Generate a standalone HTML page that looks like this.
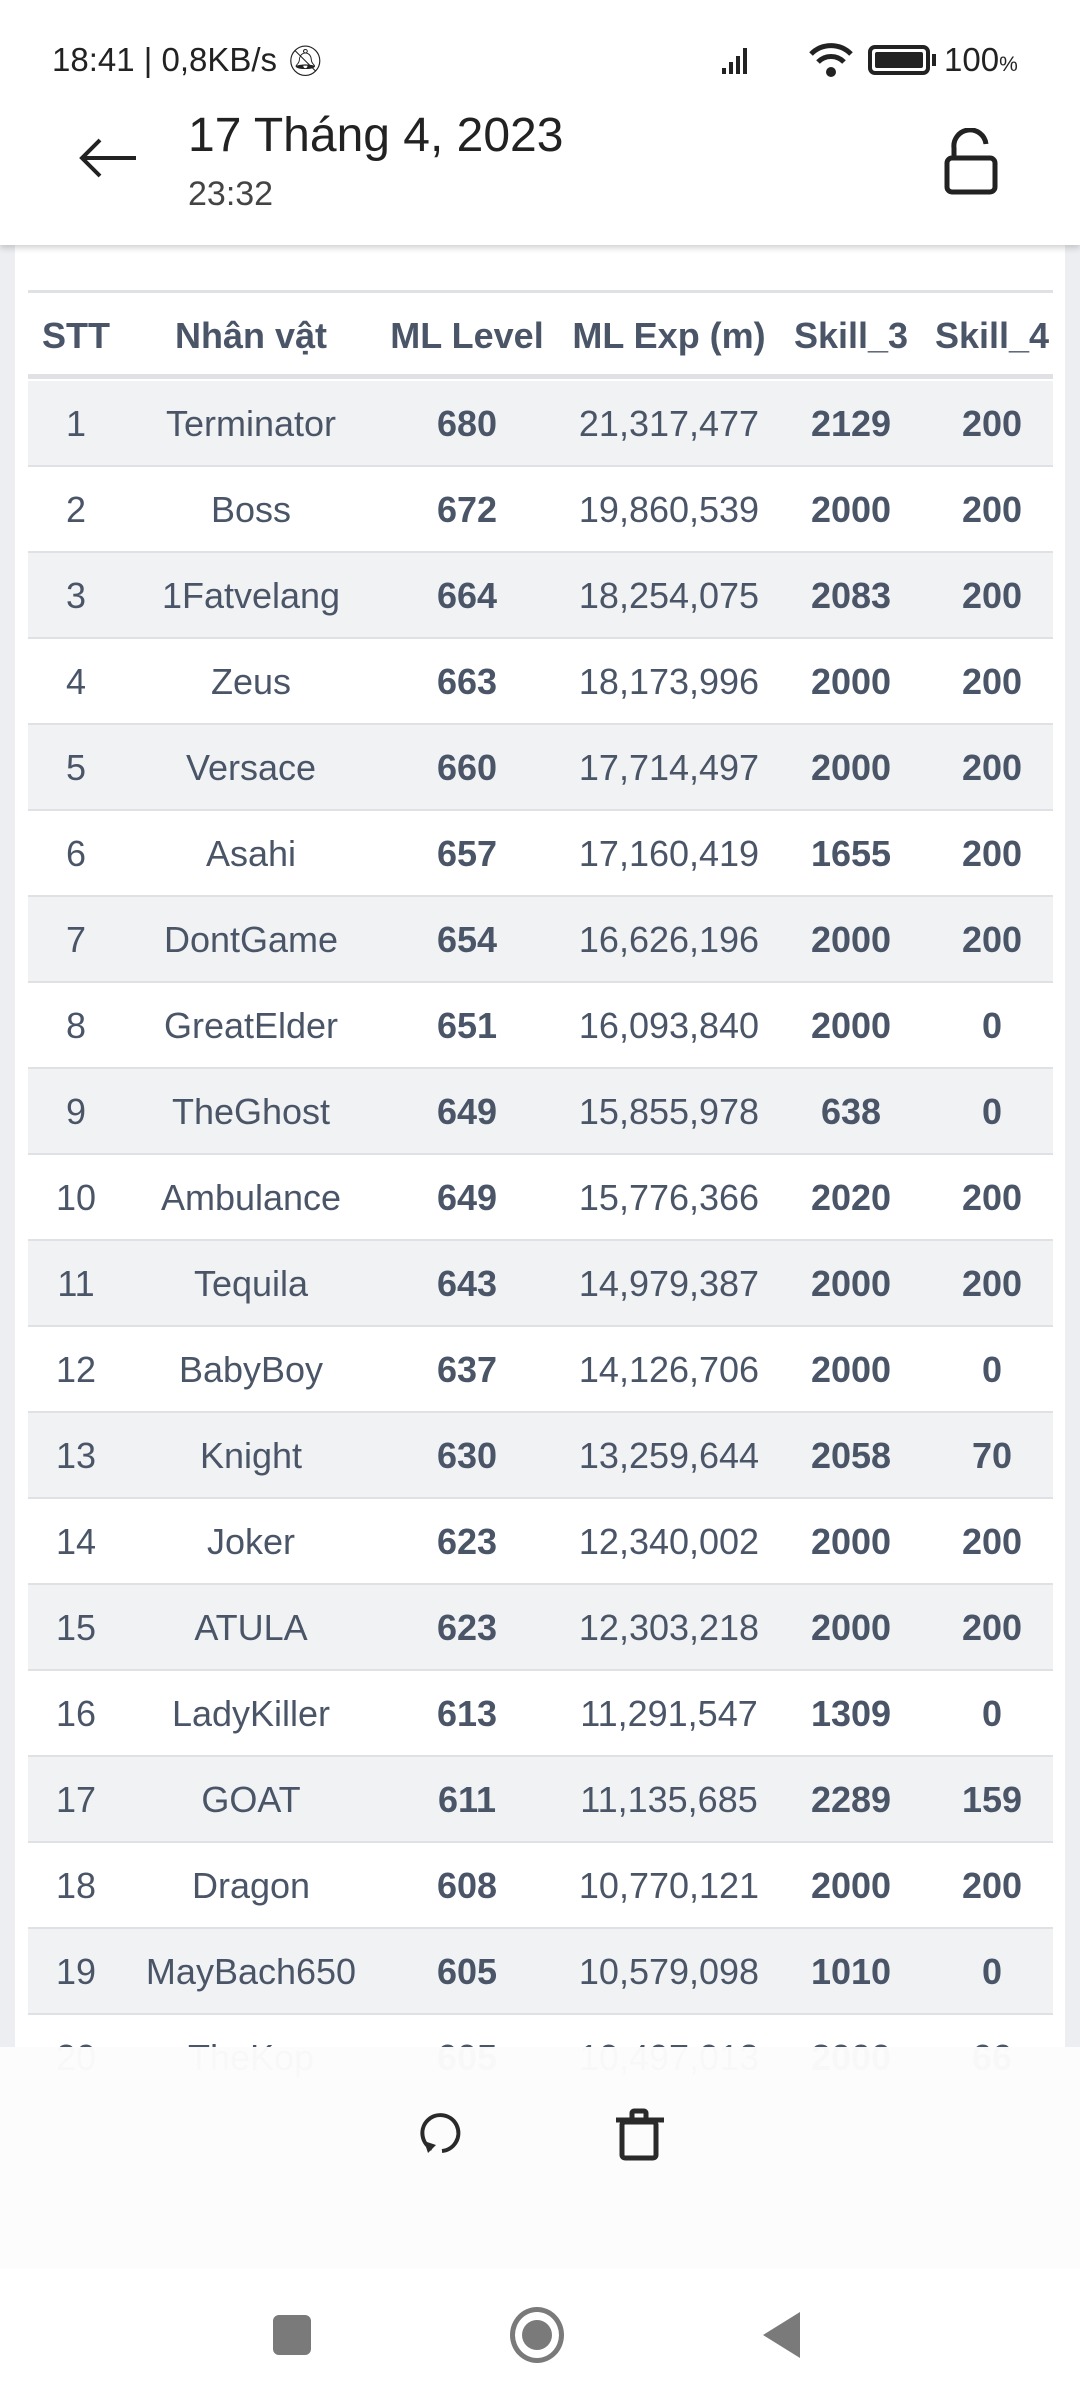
<!DOCTYPE html>
<html><head><meta charset="utf-8"><style>
*{margin:0;padding:0;box-sizing:border-box}
body{width:1080px;height:2400px;position:relative;overflow:hidden;background:#eceef1;font-family:"Liberation Sans","Noto Sans CJK SC",sans-serif;color:#4a5568}
.abs{position:absolute}
#card{left:15px;top:245px;width:1050px;height:1900px;background:#fff}
.row{position:absolute;left:28px;width:1025px;height:86px;border-bottom:2px solid #dfe1e5}
.row.g{background:#f1f2f3}
.c{position:absolute;top:0;height:86px;line-height:86px;font-size:36px;text-align:center;transform:translateX(-50%);white-space:nowrap}
.b{font-weight:bold}
</style></head><body>
<div class="abs" id="card"></div>
<div class="abs" style="left:0;top:0;width:1080px;height:245px;background:#fff;box-shadow:0 3px 6px rgba(0,0,0,0.18)"></div>
<div class="abs" style="left:52px;top:41px;font-size:33px;color:#222">18:41 | 0,8KB/s <span style="font-size:30px">🔕︎</span></div>
<div class="abs" style="left:718px;top:40px;width:72px;height:36px">
<svg width="72" height="36"><g fill="#222"><rect x="4" y="28" width="4" height="6"/><rect x="11" y="22" width="4" height="12"/><rect x="18" y="16" width="4" height="18"/><rect x="25" y="8" width="4" height="26"/></g></svg></div>
<div class="abs" style="left:806px;top:40px"><svg width="50" height="40"><g fill="none" stroke="#222" stroke-width="5"><path d="M5 14 A28 28 0 0 1 45 14"/><path d="M12 22 A18 18 0 0 1 38 22"/></g><circle cx="25" cy="32" r="5" fill="#222"/></svg></div>
<div class="abs" style="left:868px;top:45px;width:62px;height:30px;border:4px solid #222;border-radius:7px;padding:3px"><div style="width:100%;height:100%;background:#222;border-radius:2px"></div></div>
<div class="abs" style="left:932px;top:54px;width:4px;height:12px;background:#222"></div>
<div class="abs" style="left:944px;top:41px;font-size:33px;color:#222">100<span style="font-size:21px">%</span></div>
<svg class="abs" style="left:78px;top:136px" width="62" height="44"><g fill="none" stroke="#222" stroke-width="4"><path d="M4 22 H58"/><path d="M22 4 L4 22 L22 40"/></g></svg>
<div class="abs" style="left:188px;top:108px;font-size:48px;color:#222">17 Tháng 4, 2023</div>
<div class="abs" style="left:188px;top:175px;font-size:34px;color:#444">23:32</div>
<svg class="abs" style="left:942px;top:128px" width="60" height="70"><g fill="none" stroke="#222" stroke-width="5"><rect x="5" y="30" width="48" height="34" rx="5"/><path d="M12 30 V20 A16 16 0 0 1 44 16"/></g></svg>
<div class="abs" style="left:28px;top:290px;width:1025px;height:3px;background:#dfe1e5"></div>
<div class="row" style="top:293px;height:86px;border-bottom:5px solid #dfe1e5">
<div class="c b" style="left:48px">STT</div><div class="c b" style="left:223px">Nhân vật</div><div class="c b" style="left:439px">ML Level</div><div class="c b" style="left:641px">ML Exp (m)</div><div class="c b" style="left:823px">Skill_3</div><div class="c b" style="left:964px">Skill_4</div></div>
<div id="rows"></div>
<script>
var d=[["Terminator",680,"21,317,477",2129,200],["Boss",672,"19,860,539",2000,200],["1Fatvelang",664,"18,254,075",2083,200],["Zeus",663,"18,173,996",2000,200],["Versace",660,"17,714,497",2000,200],["Asahi",657,"17,160,419",1655,200],["DontGame",654,"16,626,196",2000,200],["GreatElder",651,"16,093,840",2000,0],["TheGhost",649,"15,855,978",638,0],["Ambulance",649,"15,776,366",2020,200],["Tequila",643,"14,979,387",2000,200],["BabyBoy",637,"14,126,706",2000,0],["Knight",630,"13,259,644",2058,70],["Joker",623,"12,340,002",2000,200],["ATULA",623,"12,303,218",2000,200],["LadyKiller",613,"11,291,547",1309,0],["GOAT",611,"11,135,685",2289,159],["Dragon",608,"10,770,121",2000,200],["MayBach650",605,"10,579,098",1010,0],["TheKop",605,"10,497,013",2000,66]];
var h="";d.forEach(function(r,i){var t=381+i*86;h+='<div class="row'+(i%2==0?' g':'')+'" style="top:'+t+'px"><div class="c" style="left:48px">'+(i+1)+'</div><div class="c" style="left:223px">'+r[0]+'</div><div class="c b" style="left:439px">'+r[1]+'</div><div class="c" style="left:641px">'+r[2]+'</div><div class="c b" style="left:823px">'+r[3]+'</div><div class="c b" style="left:964px">'+r[4]+'</div></div>';});
document.getElementById("rows").innerHTML=h;
</script>
<div class="abs" style="left:0;top:2047px;width:1080px;height:222px;background:rgba(252,252,253,0.975)"></div>
<div class="abs" style="left:0;top:2269px;width:1080px;height:131px;background:#fff"></div>
<svg class="abs" style="left:412px;top:2105px" width="56" height="56"><g fill="none" stroke="#2a2a2a" stroke-width="4"><path d="M20 44 A18 18 0 1 1 30 46"/></g><path d="M12 36 L24 40 L16 48 Z" fill="#2a2a2a"/></svg>
<svg class="abs" style="left:612px;top:2108px" width="56" height="56"><g fill="none" stroke="#2a2a2a" stroke-width="5"><rect x="10" y="14" width="34" height="36" rx="3"/><path d="M4 12 H52"/><rect x="20" y="3" width="14" height="9" rx="2"/></g></svg>
<div class="abs" style="left:273px;top:2315px;width:38px;height:40px;background:#7a7a7a;border-radius:6px"></div>
<div class="abs" style="left:510px;top:2307px;width:54px;height:56px;border:5px solid #7a7a7a;border-radius:50%"></div>
<div class="abs" style="left:522px;top:2320px;width:30px;height:30px;background:#7a7a7a;border-radius:50%"></div>
<svg class="abs" style="left:760px;top:2310px" width="42" height="50"><path d="M40 2 V48 L3 25 Z" fill="#7a7a7a"/></svg>
</body></html>
